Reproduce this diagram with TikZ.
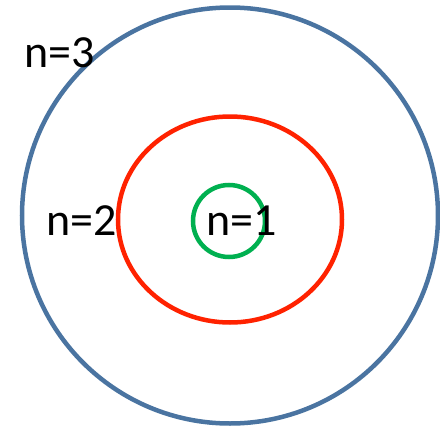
\documentclass[tikz,border=0pt]{standalone}
\usepackage{fontspec}
\setmainfont{Carlito}
\definecolor{orbblue}{HTML}{4A74A1}
\definecolor{orbred}{HTML}{FF2200}
\definecolor{orbgreen}{HTML}{00B050}
\begin{document}
\begin{tikzpicture}[x=1pt,y=-1pt,
  orbit/.style={line width=4.5pt},
  lab/.style={anchor=base west,inner sep=0pt,font=\fontsize{46}{55}\selectfont}]
\useasboundingbox (0,0) rectangle (440,426);
\draw[orbit,orbblue] (230,215.5) ellipse [x radius=208pt,y radius=208pt];
\draw[orbit,orbred] (230,219.5) ellipse [x radius=112pt,y radius=103pt];
\draw[orbit,orbgreen] (229,221) ellipse [x radius=36pt,y radius=36pt];
\node[lab] (n3) at (24,67) {n=3};
\node[lab] (n2) at (46,235) {n=2};
\node[lab] (n1) at (206,235) {n=1};
\end{tikzpicture}
\end{document}
